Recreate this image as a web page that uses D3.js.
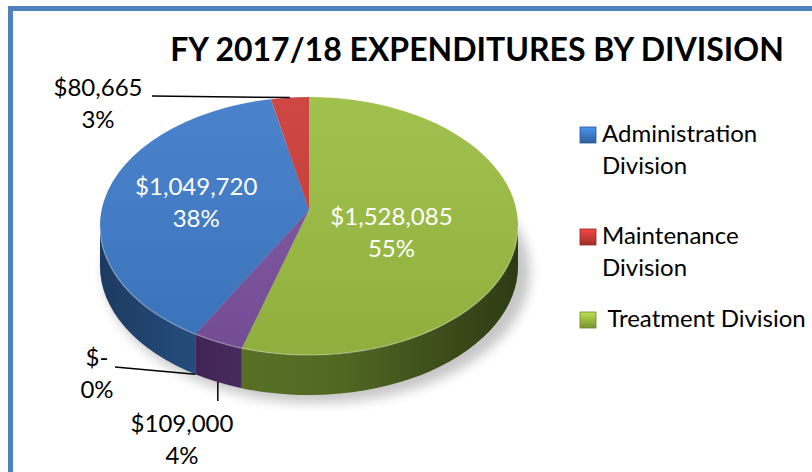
<!DOCTYPE html>
<html>
<head>
<meta charset="utf-8">
<script src="https://cdn.jsdelivr.net/npm/d3@7"></script>
<style>
  body { margin: 0; background: #fff; }
  text { font-family: Lato, "Open Sans", sans-serif; }
</style>
</head>
<body>
<script>
// data
const categories = ["Administration Division", "Maintenance Division", "Treatment Division", "Capital Division", "Other"];
const values = [1049720, 80665, 1528085, 109000, 0];
const legendNames = [["Administration", "Division"], ["Maintenance", "Division"], [" Treatment Division"]];
const title = "FY 2017/18 EXPENDITURES BY DIVISION";

const topColors = ["#3e7bc8", "#cc3b37", "#9bbd42", "#7c52a0", "#7c52a0"];
const sideColors = ["#2c5a94", "#8e2825", "#5b7527", "#4c2d63", "#4c2d63"];

const w = 812, h = 472;
const cx = 309, cy = 226, rx = 209, ry = 129, depth = 40;
const apex = [cx, cy - 16];

const svg = d3.select("body").append("svg")
  .attr("width", w)
  .attr("height", h);

const defs = svg.append("defs");

defs.append("filter").attr("id", "blur")
  .attr("x", "-20%").attr("y", "-20%").attr("width", "140%").attr("height", "140%")
  .append("feGaussianBlur").attr("stdDeviation", 6);

const sideShade = defs.append("linearGradient")
  .attr("id", "sideShade")
  .attr("gradientUnits", "userSpaceOnUse")
  .attr("x1", cx - rx).attr("x2", cx + rx).attr("y1", 0).attr("y2", 0);
sideShade.append("stop").attr("offset", "0%").attr("stop-color", "#000").attr("stop-opacity", 0.35);
sideShade.append("stop").attr("offset", "35%").attr("stop-color", "#000").attr("stop-opacity", 0.05);
sideShade.append("stop").attr("offset", "55%").attr("stop-color", "#000").attr("stop-opacity", 0.1);
sideShade.append("stop").attr("offset", "100%").attr("stop-color", "#000").attr("stop-opacity", 0.5);

const topShade = defs.append("linearGradient")
  .attr("id", "topShade")
  .attr("x1", 0).attr("x2", 0).attr("y1", 0).attr("y2", 1);
topShade.append("stop").attr("offset", "0%").attr("stop-color", "#fff").attr("stop-opacity", 0.06);
topShade.append("stop").attr("offset", "100%").attr("stop-color", "#000").attr("stop-opacity", 0.08);

topColors.forEach((c, i) => {
  const g = defs.append("linearGradient").attr("id", "leg" + i)
    .attr("x1", 0).attr("x2", 0).attr("y1", 0).attr("y2", 1);
  g.append("stop").attr("offset", "0%").attr("stop-color", d3.color(c).brighter(0.5));
  g.append("stop").attr("offset", "100%").attr("stop-color", d3.color(c).darker(0.7));
});

// frame
svg.append("rect")
  .attr("x", 10.5).attr("y", 8.5)
  .attr("width", w + 20).attr("height", h + 20)
  .attr("fill", "none")
  .attr("stroke", "#4f81bd")
  .attr("stroke-width", 5);

svg.append("text")
  .attr("x", 477).attr("y", 61)
  .attr("text-anchor", "middle")
  .attr("font-size", 32)
  .attr("font-weight", "bold")
  .attr("fill", "#000")
  .text(title);

const total = d3.sum(values);
const pie = d3.pie().sort(null)
  .startAngle(-(values[0] + values[1]) / total * 2 * Math.PI)
  .endAngle(2 * Math.PI - (values[0] + values[1]) / total * 2 * Math.PI);
const arcs = pie(values);

const pt = (a, dy = 0) => [cx + rx * Math.sin(a), cy - ry * Math.cos(a) + dy];

// shadow
svg.append("ellipse")
  .attr("cx", cx + 8).attr("cy", cy + depth + 6)
  .attr("rx", rx + 4).attr("ry", ry + 2)
  .attr("fill", "#000").attr("opacity", 0.22)
  .attr("filter", "url(#blur)");

// sides (front half only)
const lo = Math.PI / 2, hi = 3 * Math.PI / 2;
arcs.forEach((d, i) => {
  let a0 = d.startAngle, a1 = d.endAngle;
  if (a0 < 0) { a0 += 2 * Math.PI; a1 += 2 * Math.PI; }
  const s = Math.max(a0, lo), e = Math.min(a1, hi);
  if (e <= s) return;
  const p0 = pt(s), p1 = pt(e), q0 = pt(s, depth), q1 = pt(e, depth);
  const p = `M${p0}A${rx},${ry} 0 0 1 ${p1}L${q1}A${rx},${ry} 0 0 0 ${q0}Z`;
  svg.append("path").attr("d", p).attr("fill", sideColors[i]);
  svg.append("path").attr("d", p).attr("fill", "url(#sideShade)");
});

// top faces
arcs.forEach((d, i) => {
  if (d.endAngle - d.startAngle <= 0) return;
  const p0 = pt(d.startAngle), p1 = pt(d.endAngle);
  const large = d.endAngle - d.startAngle > Math.PI ? 1 : 0;
  svg.append("path")
    .attr("d", `M${apex}L${p0}A${rx},${ry} 0 ${large} 1 ${p1}Z`)
    .attr("fill", topColors[i]);
});
svg.append("ellipse")
  .attr("cx", cx).attr("cy", cy).attr("rx", rx).attr("ry", ry)
  .attr("fill", "url(#topShade)");
// rim highlight
svg.append("path")
  .attr("d", `M${pt(lo)}A${rx},${ry} 0 0 1 ${pt(hi)}`)
  .attr("fill", "none").attr("stroke", "#fff").attr("stroke-opacity", 0.25).attr("stroke-width", 1.5);

// labels
const fmtMoney = v => v === 0 ? "$-" : "$" + d3.format(",")(v);
const fmtPct = d3.format(".0%");
const mid = d => (d.startAngle + d.endAngle) / 2;

const insideLabels = [{ i: 0, f: 0.55, dy: -2 }, { i: 2, f: 0.4, dy: 6 }];
insideLabels.forEach(o => {
  const d = arcs[o.i];
  const x = cx + rx * o.f * Math.sin(mid(d));
  const y = cy - ry * o.f * Math.cos(mid(d)) + o.dy;
  const t = svg.append("text").attr("text-anchor", "middle").attr("fill", "#fff").attr("font-size", 24);
  t.append("tspan").attr("x", x).attr("y", y - 15).text(fmtMoney(values[o.i]));
  t.append("tspan").attr("x", x).attr("y", y + 17).text(fmtPct(values[o.i] / total));
});

// outside labels: text position + leader from slice edge
const outsideLabels = [
  { i: 1, x: 98, y: 96, lead: [152, 96], rim: 0 },
  { i: 4, x: 97, y: 366, lead: [115, 367], rim: depth },
  { i: 3, x: 182, y: 432, lead: null, rim: depth }
];
outsideLabels.forEach(o => {
  const d = arcs[o.i];
  const a = mid(d);
  const r = pt(a, o.rim);
  if (o.lead) {
    svg.append("path")
      .attr("d", `M${o.lead}L${r}`)
      .attr("stroke", "#000").attr("stroke-width", 1.5).attr("fill", "none");
  } else {
    svg.append("line")
      .attr("x1", r[0]).attr("y1", r[1])
      .attr("x2", r[0]).attr("y2", r[1] + 19)
      .attr("stroke", "#000").attr("stroke-width", 1.5);
  }
  const t = svg.append("text").attr("text-anchor", "middle").attr("fill", "#000").attr("font-size", 24);
  t.append("tspan").attr("x", o.x).attr("y", o.y).text(fmtMoney(values[o.i]));
  t.append("tspan").attr("x", o.x).attr("y", o.y + 32).text(fmtPct(values[o.i] / total));
});

// legend
const legendY = [127, 229, 312];
legendNames.forEach((lines, i) => {
  const g = svg.append("g").attr("transform", `translate(580,${legendY[i]})`);
  g.append("rect")
    .attr("width", 16).attr("height", 16)
    .attr("fill", `url(#leg${i})`)
    .attr("stroke", d3.color(topColors[i]).darker(1)).attr("stroke-width", 0.8);
  const t = g.append("text").attr("font-size", 24).attr("fill", "#000")
    .attr("xml:space", "preserve").style("white-space", "pre");
  lines.forEach((s, k) => {
    t.append("tspan").attr("x", 22).attr("y", 15 + k * 32).text(s);
  });
});
</script>
</body>
</html>
